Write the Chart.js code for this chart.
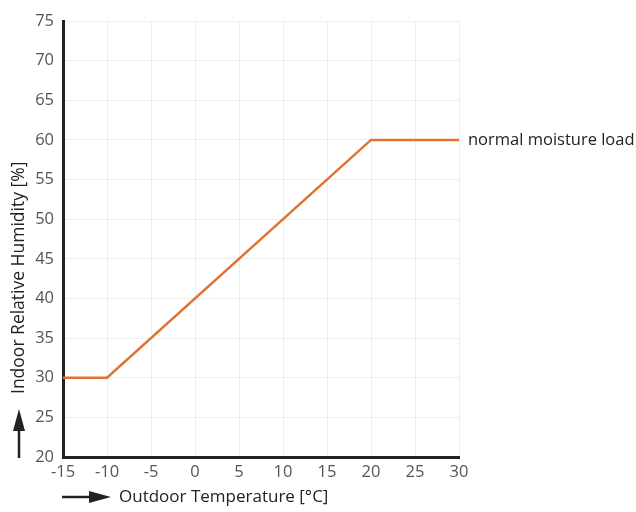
<!DOCTYPE html>
<html>
<head>
<meta charset="utf-8">
<script src="https://cdn.jsdelivr.net/npm/chart.js@4/dist/chart.umd.min.js"></script>
<style>
  html, body { margin: 0; padding: 0; background: #fff; }
  #wrap { width: 636px; height: 512px; }
</style>
</head>
<body>
<div id="wrap"><canvas id="c" width="636" height="512"></canvas></div>
<script>
// Indoor humidity set-point curve against outdoor temperature
const outdoorTemp = [-15, -10, 20, 30];
const indoorRH = [30, 30, 60, 60];
const curveLabel = 'normal moisture load';
const xTitle = 'Outdoor Temperature [°C]';
const yTitle = 'Indoor Relative Humidity [%]';

const FONT = "'Open Sans', 'Noto Sans', sans-serif";

// Axis titles with arrows, plus the label at the end of the curve
const annotations = {
  id: 'annotations',
  afterDraw(chart) {
    const ctx = chart.ctx;
    const area = chart.chartArea;
    const xs = chart.scales.x, ys = chart.scales.y;
    ctx.save();
    ctx.fillStyle = '#222';
    ctx.strokeStyle = '#222';

    // curve label
    const last = outdoorTemp.length - 1;
    const lx = xs.getPixelForValue(outdoorTemp[last]) + 9;
    const ly = ys.getPixelForValue(indoorRH[last]);
    ctx.font = '16.5px ' + FONT;
    ctx.textAlign = 'left';
    ctx.textBaseline = 'middle';
    ctx.fillText(curveLabel, lx, ly);

    // x title with arrow
    const ty = 497;
    ctx.lineWidth = 2.5;
    ctx.beginPath();
    ctx.moveTo(area.left - 1, ty);
    ctx.lineTo(area.left + 30, ty);
    ctx.stroke();
    ctx.beginPath();
    ctx.moveTo(area.left + 48, ty);
    ctx.lineTo(area.left + 26, ty - 6);
    ctx.lineTo(area.left + 26, ty + 6);
    ctx.closePath();
    ctx.fill();
    ctx.font = '17px ' + FONT;
    ctx.fillText(xTitle, area.left + 56, ty);

    // y title with arrow
    const tx = 19;
    ctx.beginPath();
    ctx.moveTo(tx, area.bottom + 1);
    ctx.lineTo(tx, area.bottom - 30);
    ctx.stroke();
    ctx.beginPath();
    ctx.moveTo(tx, area.bottom - 48);
    ctx.lineTo(tx - 6, area.bottom - 26);
    ctx.lineTo(tx + 6, area.bottom - 26);
    ctx.closePath();
    ctx.fill();
    ctx.font = '17.5px ' + FONT;
    ctx.translate(tx, area.bottom - 63);
    ctx.rotate(-Math.PI / 2);
    ctx.textAlign = 'left';
    ctx.fillText(yTitle, 0, 0);
    ctx.restore();
  }
};

new Chart(document.getElementById('c'), {
  type: 'line',
  data: {
    datasets: [{
      data: outdoorTemp.map((t, i) => ({ x: t, y: indoorRH[i] })),
      borderColor: '#E07232',
      borderWidth: 2.5,
      pointRadius: 0,
      tension: 0,
      fill: false
    }]
  },
  options: {
    responsive: false,
    animation: false,
    devicePixelRatio: 1,
    layout: { padding: { top: 21, right: 177, left: 0, bottom: 0 } },
    plugins: { legend: { display: false }, tooltip: { enabled: false } },
    scales: {
      x: {
        type: 'linear',
        min: -15, max: 30,
        ticks: { stepSize: 5, color: '#555', font: { family: FONT, size: 16.5 }, padding: 5 },
        grid: { color: '#eeeeee', lineWidth: 1, drawTicks: false },
        border: { color: '#222', width: 3 },
        afterFit(s) { s.height = 55; }
      },
      y: {
        min: 20, max: 75,
        ticks: { stepSize: 5, color: '#555', font: { family: FONT, size: 16.5 }, padding: 9 },
        grid: { color: '#eeeeee', lineWidth: 1, drawTicks: false },
        border: { color: '#222', width: 3 },
        afterFit(s) { s.width = 63; }
      }
    }
  },
  plugins: [annotations]
});
</script>
</body>
</html>
